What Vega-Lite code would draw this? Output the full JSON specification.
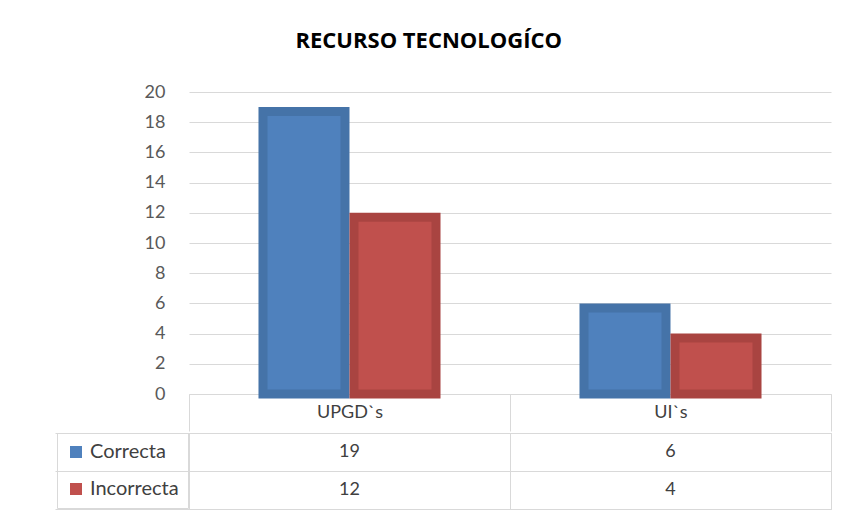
{
  "$schema": "https://vega.github.io/schema/vega-lite/v6.json",
  "background": "white",
  "padding": {"left": 54, "top": 30, "right": 14, "bottom": 6},
  "datasets": {
    "d": [
      {"category": "UPGD`s", "series": "Correcta", "value": 19},
      {"category": "UPGD`s", "series": "Incorrecta", "value": 12},
      {"category": "UI`s", "series": "Correcta", "value": 6},
      {"category": "UI`s", "series": "Incorrecta", "value": 4}
    ]
  },
  "title": {"text": "RECURSO TECNOLOGÍCO", "font": "Open Sans", "fontSize": 22, "fontWeight": "bold", "color": "#000000", "anchor": "middle", "frame": "bounds", "offset": 30, "dx": -14},
  "spacing": 0,
  "resolve": {"scale": {"color": "independent", "stroke": "independent"}, "legend": {"color": "independent"}},
  "config": {"font": "Lato", "view": {"stroke": "#D9D9D9"}},
  "vconcat": [
    {
      "width": 642,
      "height": 302,
      "view": {"stroke": null},
      "data": {"name": "d"},
      "mark": {"type": "bar", "strokeWidth": 9, "yOffset": 4.5, "y2Offset": -9},
      "encoding": {
        "x": {"field": "category", "type": "nominal", "sort": ["UPGD`s", "UI`s"],
          "scale": {"paddingInner": 0, "paddingOuter": 0},
          "axis": {"title": null, "domainColor": "#D9D9D9", "ticks": true, "tickBand": "extent", "tickSize": 37, "tickColor": "#D9D9D9", "labelFontSize": 18, "labelColor": "#404040", "labelBaseline": "middle", "labelPadding": -18.5, "labelAngle": 0, "grid": false}},
        "xOffset": {"field": "series", "type": "nominal", "sort": ["Correcta", "Incorrecta"], "scale": {"paddingInner": 0.0989, "paddingOuter": 0.813}},
        "y": {"field": "value", "type": "quantitative", "stack": null, "scale": {"domain": [0, 20], "nice": false},
          "axis": {"title": null, "values": [0, 2, 4, 6, 8, 10, 12, 14, 16, 18, 20], "domain": false, "ticks": false, "labelFontSize": 18, "labelColor": "#595959", "labelPadding": 24, "gridColor": "#D9D9D9"}},
        "color": {"field": "series", "type": "nominal", "scale": {"domain": ["Correcta", "Incorrecta"], "range": ["#4F81BD", "#C0504D"]}, "legend": null},
        "stroke": {"field": "series", "type": "nominal", "scale": {"domain": ["Correcta", "Incorrecta"], "range": ["#4573A8", "#A94441"]}, "legend": null}
      }
    },
    {
      "width": 642,
      "height": 76,
      "data": {"name": "d"},
      "encoding": {
        "x": {"field": "category", "type": "nominal", "sort": ["UPGD`s", "UI`s"],
          "scale": {"paddingInner": 0, "paddingOuter": 0},
          "axis": {"title": null, "labels": false, "ticks": false, "domain": false, "grid": true, "tickBand": "extent", "gridColor": "#D9D9D9"}},
        "y": {"field": "series", "type": "nominal", "sort": ["Correcta", "Incorrecta"],
          "scale": {"paddingInner": 0, "paddingOuter": 0},
          "axis": {"title": null, "labels": false, "ticks": true, "tickBand": "extent", "tickSize": 134, "tickColor": "#D9D9D9", "domainColor": "#D9D9D9", "grid": true, "gridColor": "#D9D9D9"}}
      },
      "layer": [
        {
          "mark": {"type": "square", "opacity": 0},
          "encoding": {
            "color": {"field": "series", "type": "nominal", "scale": {"domain": ["Correcta", "Incorrecta"], "range": ["#4F81BD", "#C0504D"]},
              "legend": {"orient": "left", "title": null, "symbolType": "square", "symbolSize": 144, "symbolOpacity": 1, "symbolStrokeWidth": 0, "labelFontSize": 20, "labelColor": "#404040", "labelFont": "Lato", "padding": 9, "rowPadding": 17, "labelOffset": 4, "strokeColor": "#D9D9D9", "offset": -134}}
          }
        },
        {
          "mark": {"type": "text", "fontSize": 18, "color": "#404040"},
          "encoding": {"text": {"field": "value", "type": "quantitative"}}
        }
      ]
    }
  ]
}
